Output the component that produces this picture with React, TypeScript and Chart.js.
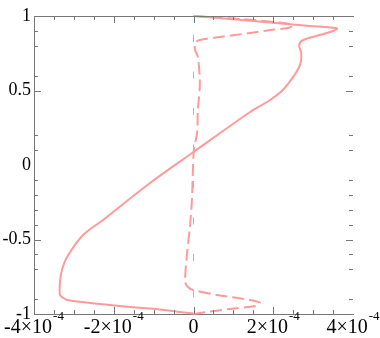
import React, { useEffect, useRef } from "react";
import { Chart, registerables } from "chart.js";

Chart.register(...registerables);

// Solid curve
const solidX = [0, 0.92e-4, 1.92e-4, 2.92e-4, 3.42e-4, 3.6e-4, 3.5e-4, 3.17e-4, 2.75e-4, 2.65e-4, 2.7e-4, 2.7e-4, 2.65e-4, 2.5e-4, 2.24e-4, 1.92e-4, 1.42e-4, 0, -1.09e-4, -2.27e-4, -2.77e-4, -3.17e-4, -3.3e-4, -3.35e-4, -3.35e-4, -3.3e-4, -3.17e-4, -2.34e-4, -1.59e-4, -1.09e-4, 0];
const solidY = [1, 0.98, 0.956, 0.933, 0.923, 0.916, 0.899, 0.872, 0.839, 0.805, 0.752, 0.705, 0.658, 0.591, 0.503, 0.436, 0.356, 0.087, -0.121, -0.369, -0.47, -0.617, -0.705, -0.792, -0.872, -0.886, -0.906, -0.933, -0.953, -0.963, -0.997];

// Dashed curve
const dashedX = [0, 1.17e-4, 2.17e-4, 2.42e-4, 2.5e-4, 2.37e-4, 1.92e-4, 1.42e-4, 0.66e-4, 0.16e-4, 0.04e-4, 0.04e-4, 0.11e-4, 0.16e-4, 0.11e-4, 0.09e-4, 0.01e-4, -0.04e-4, -0.09e-4, -0.16e-4, -0.21e-4, -0.14e-4, -0.01e-4, 0.59e-4, 1.42e-4, 1.67e-4, 1.54e-4, 0.92e-4, 0.16e-4, 0];
const dashedY = [1, 0.98, 0.956, 0.946, 0.936, 0.919, 0.906, 0.886, 0.859, 0.839, 0.819, 0.772, 0.725, 0.55, 0.369, 0.215, 0.101, -0.235, -0.416, -0.591, -0.785, -0.819, -0.839, -0.872, -0.906, -0.926, -0.946, -0.966, -0.993, -1];

// Zero reference line
const zeroLineX = [0, 0];
const zeroLineY = [1, -1];

// Tick labels / marks
const xLabelTicks = [-4e-4, -2e-4, 0, 2e-4, 4e-4];
const xLabelMain = ["-4×10", "-2×10", "0", "2×10", "4×10"];
const xLabelSup = ["-4", "-4", "", "-4", "-4"];
const yLabelTicks = [-1, -0.5, 0, 0.5, 1];
const xMajorMarks = [-2e-4, 0, 2e-4];
const xMinorMarks = [-3.5e-4, -3e-4, -2.5e-4, -1.5e-4, -1e-4, -0.5e-4, 0.5e-4, 1e-4, 1.5e-4, 2.5e-4, 3e-4, 3.5e-4];
const yMajorMarks = [0.5, -0.5];
const yMinorMarks = [0.9, 0.8, 0.6, 0.2, 0.1, -0.1, -0.2, -0.3, -0.4, -0.6, -0.7, -0.9];

const curveColor = "#ff9a9a";
const axisColor = "#777777";
const FONT = "'Liberation Serif', 'Times New Roman', Times, serif";

const toPts = (xs: number[], ys: number[]) => xs.map((x, i) => ({ x, y: ys[i] }));

const frameTicks = {
  id: "frameTicks",
  afterDraw(chart: any) {
    const ctx = chart.ctx;
    const xs = chart.scales.x;
    const ys = chart.scales.y;
    const L = Math.round(xs.getPixelForValue(-4e-4));
    const R = Math.round(xs.getPixelForValue(4e-4));
    const T = Math.round(ys.getPixelForValue(1));
    const B = Math.round(ys.getPixelForValue(-1));
    ctx.save();
    ctx.setLineDash([]);
    ctx.globalAlpha = 1;
    ctx.globalCompositeOperation = "source-over";
    ctx.fillStyle = axisColor;
    // top frame line
    ctx.fillRect(L, T, R - L + 1, 1);
    const xMark = (v: number, len: number) => {
      const px = Math.round(xs.getPixelForValue(v));
      ctx.fillRect(px, T, 1, len);
      ctx.fillRect(px, B - len, 1, len);
    };
    const yMark = (v: number, len: number) => {
      const py = Math.round(ys.getPixelForValue(v));
      ctx.fillRect(L, py, len, 1);
      ctx.fillRect(R - len, py, len, 1);
    };
    xMajorMarks.forEach((v) => xMark(v, 7));
    xMinorMarks.forEach((v) => xMark(v, 4));
    yMajorMarks.forEach((v) => yMark(v, 7));
    yMinorMarks.forEach((v) => yMark(v, 4));

    // x tick labels with raised exponents
    ctx.fillStyle = "#000";
    ctx.textBaseline = "alphabetic";
    ctx.textAlign = "left";
    xLabelTicks.forEach((v, i) => {
      const px = xs.getPixelForValue(v);
      ctx.font = `20px ${FONT}`;
      const wMain = ctx.measureText(xLabelMain[i]).width;
      ctx.font = `13px ${FONT}`;
      const wSup = xLabelSup[i] ? ctx.measureText(xLabelSup[i]).width + 1 : 0;
      const start = px - (wMain + wSup) / 2;
      ctx.font = `20px ${FONT}`;
      ctx.fillText(xLabelMain[i], start, 333);
      if (xLabelSup[i]) {
        ctx.font = `13px ${FONT}`;
        ctx.fillText(xLabelSup[i], start + wMain + 1, 320);
      }
    });
    ctx.restore();
  },
};

export default function App() {
  const ref = useRef<HTMLCanvasElement | null>(null);
  useEffect(() => {
    document.body.style.margin = "0";
    const canvas = ref.current;
    if (!canvas) return;
    const chart = new Chart(canvas, {
      type: "scatter",
      data: {
        datasets: [
          {
            data: toPts(solidX, solidY),
            showLine: true,
            borderColor: curveColor,
            borderWidth: 2,
            pointRadius: 0,
            tension: 0.3,
            clip: false,
          },
          {
            data: toPts(dashedX, dashedY),
            showLine: true,
            borderColor: curveColor,
            borderWidth: 2,
            borderDash: [12, 5],
            pointRadius: 0,
            tension: 0.3,
            clip: false,
          },
          {
            data: toPts(zeroLineX, zeroLineY),
            showLine: true,
            borderColor: "rgba(150,150,150,0.7)",
            borderWidth: 1,
            borderDash: [7, 29.5],
            borderDashOffset: 17.5,
            pointRadius: 0,
            clip: false,
          },
        ],
      },
      options: {
        animation: false,
        responsive: false,
        devicePixelRatio: 1,
        layout: { padding: { top: 16, right: 27, left: 0, bottom: 0 } },
        plugins: { legend: { display: false }, tooltip: { enabled: false } },
        scales: {
          x: {
            type: "linear",
            min: -4e-4,
            max: 4e-4,
            afterBuildTicks: (s: any) => {
              s.ticks = xLabelTicks.map((v) => ({ value: v }));
            },
            afterFit: (s: any) => {
              s.height = 24;
              s.paddingLeft = 0;
              s.paddingRight = 0;
            },
            grid: { display: false, drawTicks: false },
            border: { display: true, color: axisColor, width: 1 },
            ticks: { display: false },
          },
          y: {
            type: "linear",
            min: -1,
            max: 1,
            afterBuildTicks: (s: any) => {
              s.ticks = yLabelTicks.map((v) => ({ value: v }));
            },
            afterFit: (s: any) => {
              s.width = 34;
              s.paddingTop = 0;
              s.paddingBottom = 0;
            },
            grid: { display: false, drawTicks: false },
            border: { display: true, color: axisColor, width: 1 },
            ticks: {
              autoSkip: false,
              padding: 3,
              color: "#000",
              font: { family: FONT, size: 18 },
              callback: (v: any) => String(Number(v)),
            },
          },
        },
      },
      plugins: [frameTicks],
    });
    return () => chart.destroy();
  }, []);
  return (
    <div style={{ width: 380, height: 338 }}>
      <canvas ref={ref} width={380} height={338} style={{ display: "block" }} />
    </div>
  );
}
